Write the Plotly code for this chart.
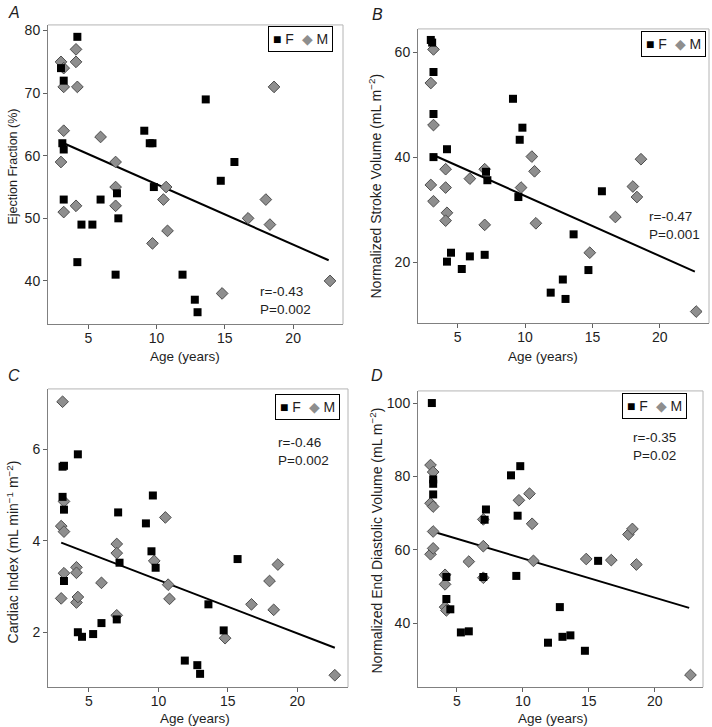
import plotly.graph_objects as go

W, H = 712, 727

# %% data (age in years)
# A: ejection fraction (%)
a_f_age = [3.0, 3.1, 3.2, 3.2, 3.2, 4.2, 4.2, 4.5, 5.3, 5.9, 7.0, 7.1, 7.2, 9.1, 9.5, 9.7, 9.8, 11.9, 12.8, 13.0, 13.6, 14.7, 15.7]
a_f_val = [74, 62, 72, 61, 53, 79, 43, 49, 49, 53, 41, 54, 50, 64, 62, 62, 55, 41, 37, 35, 69, 56, 59]
a_m_age = [3.0, 3.2, 3.2, 4.1, 4.1, 4.2, 3.2, 3.0, 3.2, 4.1, 5.9, 7.0, 7.0, 7.0, 9.7, 10.5, 10.7, 10.8, 14.8, 16.7, 18.0, 18.3, 18.6, 22.7]
a_m_val = [75, 74, 71, 77, 75, 71, 64, 59, 51, 52, 63, 59, 55, 52, 46, 53, 55, 48, 38, 50, 53, 49, 71, 40]
a_fit_age = [3.2, 22.6]
a_fit_val = [62.0, 43.3]

# B: normalized stroke volume (mL m-2)
b_f_age = [3.0, 3.1, 3.2, 3.2, 3.2, 4.2, 4.2, 4.5, 5.3, 5.9, 7.0, 7.1, 7.2, 9.1, 9.5, 9.6, 9.8, 11.9, 12.8, 13.0, 13.6, 14.7, 15.7]
b_f_val = [62.3, 61.8, 56.2, 48.2, 40.0, 41.5, 20.1, 21.8, 18.7, 21.1, 21.4, 37.2, 35.6, 51.1, 32.4, 43.3, 45.6, 14.2, 16.7, 13.0, 25.3, 18.5, 33.5]
b_m_age = [3.2, 3.0, 3.2, 3.0, 3.2, 4.1, 4.1, 4.2, 4.1, 5.9, 7.0, 7.0, 9.7, 10.5, 10.7, 10.8, 14.8, 16.7, 18.0, 18.3, 18.6, 22.7]
b_m_val = [60.5, 54.1, 46.1, 34.7, 31.6, 37.7, 34.2, 29.4, 27.9, 35.9, 37.7, 27.1, 34.2, 40.1, 37.3, 27.4, 21.8, 28.6, 34.4, 32.4, 39.6, 10.6]
b_fit_age = [3.1, 22.6]
b_fit_val = [40.5, 18.2]

# C: cardiac index (mL min-1 m-2)
c_f_age = [3.1, 3.2, 3.1, 3.2, 3.2, 4.2, 4.2, 4.5, 5.3, 5.9, 7.0, 7.1, 7.2, 9.1, 9.5, 9.6, 9.8, 11.9, 12.8, 13.0, 13.6, 14.7, 15.7]
c_f_val = [5.62, 5.64, 4.96, 4.68, 3.12, 5.89, 2.0, 1.9, 1.96, 2.2, 2.28, 4.62, 3.52, 4.38, 3.77, 4.99, 3.41, 1.38, 1.28, 1.09, 2.61, 2.04, 3.6]
c_m_age = [3.1, 3.2, 3.0, 3.2, 3.2, 3.0, 4.1, 4.1, 4.1, 4.2, 5.9, 7.0, 7.0, 7.0, 9.7, 10.5, 10.7, 10.8, 14.8, 16.7, 18.0, 18.3, 18.6, 22.7]
c_m_val = [7.04, 4.86, 4.32, 4.2, 3.29, 2.74, 3.42, 3.3, 2.65, 2.77, 3.08, 3.93, 3.73, 2.37, 3.56, 4.51, 3.04, 2.73, 1.87, 2.61, 3.12, 2.49, 3.48, 1.06]
c_fit_age = [3.0, 22.7]
c_fit_val = [3.96, 1.66]

# D: normalized end diastolic volume (mL m-2)
d_f_age = [3.1, 3.2, 3.2, 3.2, 4.2, 4.2, 4.5, 5.3, 5.9, 7.0, 7.1, 7.2, 9.1, 9.5, 9.6, 9.8, 11.9, 12.8, 13.0, 13.6, 14.7, 15.7]
d_f_val = [100, 79.2, 78.0, 75.1, 52.6, 46.6, 43.8, 37.5, 37.8, 52.6, 68.2, 71.0, 80.3, 52.9, 69.3, 82.8, 34.7, 44.4, 36.3, 36.7, 32.5, 57.0]
d_m_age = [3.0, 3.2, 3.0, 3.2, 3.2, 3.0, 3.2, 4.1, 4.1, 4.1, 4.2, 5.9, 7.0, 7.0, 7.0, 9.7, 10.5, 10.7, 10.8, 14.8, 16.7, 18.0, 18.3, 18.6, 22.7]
d_m_val = [83.1, 81.2, 72.7, 71.8, 65.0, 58.8, 60.4, 53.2, 50.6, 44.4, 43.5, 56.8, 68.3, 61.0, 52.4, 73.5, 75.3, 67.1, 57.0, 57.5, 57.2, 64.2, 65.7, 56.0, 25.9]
d_fit_age = [3.1, 22.6]
d_fit_val = [65.05, 44.2]

titles_y = ["Ejection Fraction (%)",
            "Normalized Stroke Volume (mL m<sup>\u22122</sup>)",
            "Cardiac Index (mL min<sup>\u22121</sup> m<sup>\u22122</sup>)",
            "Normalized End Diastolic Volume (mL m<sup>\u22122</sup>)"]
stats = [("r=-0.43", "P=0.002"), ("r=-0.47", "P=0.001"),
         ("r=-0.46", "P=0.002"), ("r=-0.35", "P=0.02")]
letters = ["A", "B", "C", "D"]

panels = [(a_f_age, a_f_val, a_m_age, a_m_val, a_fit_age, a_fit_val),
          (b_f_age, b_f_val, b_m_age, b_m_val, b_fit_age, b_fit_val),
          (c_f_age, c_f_val, c_m_age, c_m_val, c_fit_age, c_fit_val),
          (d_f_age, d_f_val, d_m_age, d_m_val, d_fit_age, d_fit_val)]

#%% layout in window pixels: left, right, top, bottom of each plot box
boxes = [(48, 343, 23, 323), (418, 709, 27, 322), (48, 348, 388, 687), (418, 703, 390, 687)]
yranges = [[33.1, 80.9], [8.4, 64.4], [0.8, 7.32], [22.6, 103.3]]
ytickvals = [[40, 50, 60, 70, 80], [20, 40, 60], [2, 4, 6], [40, 60, 80, 100]]
xrange_ = [2.05, 23.65]

# text positions (window pixels, centres)
letter_pos = [(14, 11), (377, 13), (14, 375), (377, 375)]
ytitle_pos = [(13, 165), (376, 184), (13, 552), (376, 540)]
ytitle_size = [12.5, 14, 14, 14]
xtitle_pos = [(185, 355), (543, 355), (195, 718), (553, 718)]
stat_pos = [(258, 290), (647, 215), (276, 442), (631, 437)]
legend_pos = [(300, 37), (673, 42), (307, 406), (654, 405)]

def px(x):
    return x / W

def py(y):
    return 1 - y / H

FONT = "Liberation Sans, Arial, sans-serif"
TXT = "#1e1e1e"

def note(x, y, text, size=13.5, **kw):
    d = dict(x=px(x), y=py(y), xref="paper", yref="paper", text=text, showarrow=False,
             xanchor="center", yanchor="middle", font=dict(family=FONT, size=size, color=TXT))
    d.update(kw)
    return d

fig = go.Figure()
shapes = []
annotations = []
for i, (fa, fv, ma, mv, fit_a, fit_v) in enumerate(panels):
    n = "" if i == 0 else str(i + 1)
    xa, ya = "x" + n, "y" + n
    fig.add_trace(go.Scatter(x=fit_a, y=fit_v, mode="lines", line=dict(color="black", width=2),
                             xaxis=xa, yaxis=ya, showlegend=False, hoverinfo="skip"))
    fig.add_trace(go.Scatter(x=ma, y=mv, mode="markers", name="M", xaxis=xa, yaxis=ya,
                             marker=dict(symbol="diamond", size=9, color="#8e8e8e",
                                         line=dict(color="#4d4d4d", width=1)),
                             showlegend=False))
    fig.add_trace(go.Scatter(x=fa, y=fv, mode="markers", name="F", xaxis=xa, yaxis=ya,
                             marker=dict(symbol="square", size=8, color="black",
                                         line=dict(width=0)),
                             showlegend=False))
    l, r, t, b = boxes[i]
    axis_common = dict(showline=True, linecolor="#808080", linewidth=1, ticks="outside",
                       ticklen=4, tickcolor="#606060", showgrid=False, zeroline=False,
                       tickfont=dict(family=FONT, size=14, color=TXT))
    fig.layout["xaxis" + n] = dict(axis_common, domain=[px(l), px(r)], range=xrange_,
                                   tickvals=[5, 10, 15, 20], anchor=ya, ticklabelstandoff=-3)
    fig.layout["yaxis" + n] = dict(axis_common, domain=[py(b), py(t)], range=yranges[i],
                                   tickvals=ytickvals[i], anchor=xa)
    # lighter top and right frame
    for x0, y0, x1, y1 in [(0, 1, 1, 1), (1, 0, 1, 1)]:
        shapes.append(dict(type="line", xref=xa + " domain", yref=ya + " domain",
                           x0=x0, y0=y0, x1=x1, y1=y1, line=dict(color="#b4b4b4", width=1)))

    lx, ly = letter_pos[i]
    annotations.append(note(lx, ly, "<i>%s</i>" % letters[i], size=16))
    tx, ty = ytitle_pos[i]
    annotations.append(note(tx, ty, titles_y[i], size=ytitle_size[i], textangle=-90))
    tx, ty = xtitle_pos[i]
    annotations.append(note(tx, ty, "Age (years)"))
    sx, sy = stat_pos[i]
    annotations.append(note(sx, sy, stats[i][0], xanchor="left"))
    annotations.append(note(sx, sy + 18, stats[i][1], xanchor="left"))
    gx, gy = legend_pos[i]
    annotations.append(note(gx, gy, "<span style='color:black'>\u25a0</span>&nbsp;F&nbsp;&nbsp;"
                                    "<span style='color:#8e8e8e'>\u25c6</span>&nbsp;M",
                            size=14, bordercolor="black", borderwidth=1, borderpad=4,
                            bgcolor="white"))

fig.update_layout(width=W, height=H, margin=dict(l=0, r=0, t=0, b=0),
                  paper_bgcolor="white", plot_bgcolor="white",
                  shapes=shapes, annotations=annotations, showlegend=False)
# drop the default 8 px body margin so the figure fills the window
fig.write_html("out.html", config={"displayModeBar": False},
               post_script="document.body.style.margin='0px';")
